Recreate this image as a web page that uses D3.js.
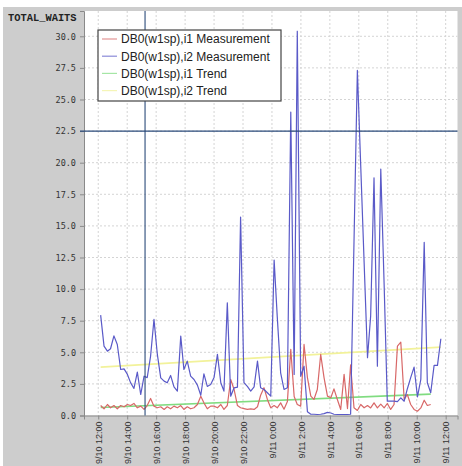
<!DOCTYPE html>
<html>
<head>
<meta charset="utf-8">
<script src="https://cdn.jsdelivr.net/npm/d3@7"></script>
<style>
  html, body { margin: 0; padding: 0; background: #ffffff; }
  svg { display: block; }
</style>
</head>
<body>
<div id="chart"></div>
<script>
// ---------------- DATA ----------------
const yAxisTitle = "TOTAL_WAITS";
const seriesNames = [
  "DB0(w1sp),i1 Measurement",
  "DB0(w1sp),i2 Measurement",
  "DB0(w1sp),i1 Trend",
  "DB0(w1sp),i2 Trend"
];
const seriesColors = ["#d86868", "#5a5ac8", "#80dc80", "#f2f29a"];

// sample times: minutes after 9/10 12:00
const sampleMinutes = [
  10, 24, 38, 51, 65, 79, 93, 107, 121, 134,
  148, 162, 176, 190, 203, 217, 231, 245, 259, 273,
  286, 300, 314, 328, 342, 355, 369, 383, 397, 411,
  425, 438, 452, 466, 480, 494, 508, 521, 535, 549,
  563, 577, 590, 604, 618, 632, 646, 660, 673, 687,
  701, 715, 729, 742, 756, 770, 784, 798, 812, 825,
  839, 853, 867, 881, 894, 908, 922, 936, 950, 964,
  977, 991, 1005, 1019, 1033, 1046, 1060, 1074, 1088, 1102,
  1116, 1129, 1143, 1157, 1171, 1185, 1198, 1212, 1226, 1240,
  1254, 1268, 1281, 1295, 1309, 1323, 1337, 1351, 1364, 1378,
  1392, 1406, 1420
];

const i1Measurement = [
  0.79, 0.53, 0.87, 0.61, 0.79, 0.53, 0.79, 0.69, 0.87, 0.79,
  0.95, 0.61, 0.74, 0.48, 0.79, 1.35, 0.74, 0.61, 0.69, 0.48,
  0.69, 0.53, 0.74, 0.61, 0.79, 0.48, 0.69, 0.53, 0.61, 0.87,
  1.53, 1.00, 0.53, 0.74, 0.74, 0.61, 0.87, 0.48, 0.79, 2.85,
  2.06, 0.79, 0.61, 0.55, 0.48, 0.53, 0.48, 0.69, 1.60, 2.20,
  1.27, 0.61, 0.79, 0.61, 1.00, 0.50, 1.10, 5.23, 1.50, 0.87,
  0.74, 5.62, 3.00, 1.53, 1.27, 2.06, 4.83, 2.98, 1.53, 1.40,
  2.11, 1.27, 0.48, 3.25, 0.55, 4.00, 0.61, 0.40, 0.87, 0.61,
  0.79, 0.60, 1.00, 0.60, 0.90, 0.60, 0.95, 0.48, 0.87, 5.49,
  5.80, 1.27, 1.66, 0.87, 0.48, 0.34, 0.60, 1.21, 0.79, 0.87
];

const i2Measurement = [
  7.94, 5.49, 5.09, 5.28, 6.30, 5.62, 3.64, 3.69, 3.25, 2.60,
  2.14, 3.43, 1.66, 3.11, 3.00, 4.70, 7.60, 4.83, 2.98, 2.72,
  2.59, 3.17, 2.27, 1.93, 6.28, 3.64, 4.30, 3.11, 2.85, 2.40,
  1.60, 3.30, 2.30, 2.45, 3.00, 4.83, 2.59, 1.93, 8.92, 1.53,
  2.19, 2.24, 15.70, 2.60, 2.30, 1.93, 2.27, 4.30, 2.20, 2.06,
  1.80, 1.53, 12.30, 7.80, 3.38, 2.06, 2.20, 24.00, 3.25, 30.40,
  3.11, 3.90, 0.30, 0.10, 0.10, 0.08, 0.10, 0.15, 0.25, 0.20,
  0.10, 0.08, 0.08, 0.08, 0.08, 0.10, 13.70, 27.30, 19.70, 12.10,
  4.57, 7.86, 18.80, 3.90, 19.50, 10.30, 1.13, 1.13, 1.13, 1.10,
  1.40, 1.13, 2.10, 3.00, 3.83, 1.48, 2.85, 13.70, 2.59, 1.80,
  3.96, 3.96, 6.07
];

const i1TrendMinutes = [10, 1378];
const i1Trend = [0.63, 1.69];
const i2TrendMinutes = [10, 1420];
const i2Trend = [3.83, 5.41];

const yTickValues = [0, 2.5, 5, 7.5, 10, 12.5, 15, 17.5, 20, 22.5, 25, 27.5, 30];
const crosshairMinutes = 194;   // 9/10 15:14
const crosshairValue = 22.5;

// ---------------- CHART ----------------
const W = 462, H = 466;
const plot = { left: 84, top: 11, right: 457.5, bottom: 415.5 };
const base = Date.UTC(2010, 8, 10, 12, 0);
const toDate = m => new Date(base + m * 60000);

const svg = d3.select("#chart").append("svg")
  .attr("width", W).attr("height", H);

svg.append("rect").attr("x", 3).attr("y", 7).attr("width", W - 3).attr("height", H - 7)
  .attr("fill", "#cdcdcd");

const x = d3.scaleUtc()
  .domain([toDate(-59), toDate(24 * 60 + 49)])
  .range([plot.left, plot.right]);
const y = d3.scaleLinear()
  .domain([0, 32.0])
  .range([plot.bottom, plot.top]);

svg.append("rect")
  .attr("x", plot.left).attr("y", plot.top)
  .attr("width", plot.right - plot.left).attr("height", plot.bottom - plot.top)
  .attr("fill", "#ffffff");

const xTicks = x.ticks(d3.utcHour.every(2));

// grid
const grid = svg.append("g");
grid.selectAll("line.gy").data(yTickValues.filter(d => d > 0)).join("line")
  .attr("x1", plot.left).attr("x2", plot.right)
  .attr("y1", d => y(d)).attr("y2", d => y(d))
  .attr("stroke", "#d4d4d4").attr("stroke-dasharray", "2,2");
grid.selectAll("line.gx").data(xTicks).join("line")
  .attr("x1", d => x(d)).attr("x2", d => x(d))
  .attr("y1", plot.top).attr("y2", plot.bottom)
  .attr("stroke", "#d4d4d4").attr("stroke-dasharray", "2,2");

// axes
const yAxis = svg.append("g")
  .attr("transform", `translate(${plot.left},0)`)
  .call(d3.axisLeft(y).tickValues(yTickValues).tickSize(4).tickPadding(4)
    .tickFormat(d3.format(".1f")));
yAxis.select(".domain").attr("stroke", "#8a8a8a");
yAxis.selectAll(".tick line").attr("stroke", "#8a8a8a");
yAxis.selectAll("text")
  .attr("font-family", "'DejaVu Sans Mono', monospace")
  .attr("font-size", "8.5px").attr("fill", "#333");

const xAxis = svg.append("g")
  .attr("transform", `translate(0,${plot.bottom})`)
  .call(d3.axisBottom(x).tickValues(xTicks).tickSize(4)
    .tickFormat(d3.utcFormat("%-m/%-d %-H:%M")));
xAxis.select(".domain").attr("stroke", "#8a8a8a");
xAxis.selectAll(".tick line").attr("stroke", "#8a8a8a");
xAxis.selectAll("text")
  .attr("transform", "rotate(-90)")
  .attr("text-anchor", "end")
  .attr("x", -6).attr("y", 0).attr("dy", "0.35em")
  .attr("font-family", "'Liberation Sans', Arial, sans-serif")
  .attr("font-size", "9px").attr("fill", "#333");

// title
svg.append("text")
  .attr("x", 8).attr("y", 20.5)
  .attr("font-family", "'Liberation Mono', 'Courier New', monospace")
  .attr("font-weight", "bold")
  .attr("font-size", "10.4px").attr("fill", "#222")
  .text(yAxisTitle);

// series
const line = d3.line().x(d => x(toDate(d[0]))).y(d => y(d[1]));
const mk = (ts, vs) => vs.map((v, i) => [ts[i], v]);

const series = [
  { data: mk(i2TrendMinutes, i2Trend), color: seriesColors[3], w: 1.6 },
  { data: mk(i1TrendMinutes, i1Trend), color: seriesColors[2], w: 1.6 },
  { data: mk(sampleMinutes, i1Measurement), color: seriesColors[0], w: 1.2 },
  { data: mk(sampleMinutes, i2Measurement), color: seriesColors[1], w: 1.2 }
];
svg.append("g").selectAll("path").data(series).join("path")
  .attr("d", d => line(d.data))
  .attr("fill", "none")
  .attr("stroke", d => d.color)
  .attr("stroke-width", d => d.w)
  .attr("stroke-linejoin", "round");

// crosshairs
svg.append("line")
  .attr("x1", x(toDate(crosshairMinutes))).attr("x2", x(toDate(crosshairMinutes)))
  .attr("y1", plot.top).attr("y2", plot.bottom)
  .attr("stroke", "#2a4a7a").attr("stroke-width", 1.1);
svg.append("line")
  .attr("x1", plot.left - 4).attr("x2", plot.right)
  .attr("y1", y(crosshairValue)).attr("y2", y(crosshairValue))
  .attr("stroke", "#2a4a7a").attr("stroke-width", 1.1);

// legend
const lg = svg.append("g");
lg.append("rect").attr("x", 98).attr("y", 30).attr("width", 183).attr("height", 71)
  .attr("fill", "#ffffff").attr("stroke", "#444").attr("stroke-width", 1.2);
const rows = lg.selectAll("g.row").data(seriesNames).join("g")
  .attr("transform", (d, i) => `translate(0,${39 + i * 17.2})`);
rows.append("line")
  .attr("x1", 102).attr("x2", 117).attr("y1", 0).attr("y2", 0)
  .attr("stroke", (d, i) => seriesColors[i]).attr("stroke-width", 1.2)
  .attr("opacity", 0.7);
rows.append("text")
  .attr("x", 121).attr("y", 4.3)
  .attr("font-family", "'Liberation Sans', Arial, sans-serif")
  .attr("font-size", "12px").attr("fill", "#222")
  .text(d => d);
</script>
</body>
</html>
